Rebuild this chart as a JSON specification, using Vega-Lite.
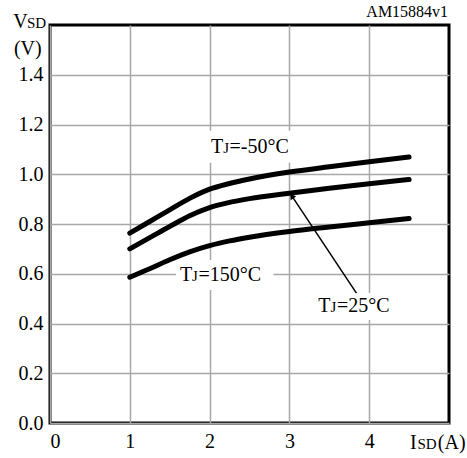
{
  "$schema": "https://vega.github.io/schema/vega-lite/v6.json",
  "autosize": "none",
  "width": 399,
  "height": 398,
  "padding": {"left": 50, "top": 25, "right": 18, "bottom": 35},
  "background": "white",
  "config": {
    "view": {"stroke": "black", "strokeWidth": 3},
    "font": "Liberation Serif",
    "axis": {"labelFont": "Liberation Serif"},
    "text": {"font": "Liberation Serif"}
  },
  "datasets": {
    "curves": [
      {"s": "-50", "i": 1.0, "v": 0.763}, {"s": "-50", "i": 1.25, "v": 0.81}, {"s": "-50", "i": 1.5, "v": 0.857},
      {"s": "-50", "i": 1.75, "v": 0.903}, {"s": "-50", "i": 2.0, "v": 0.94}, {"s": "-50", "i": 2.25, "v": 0.963},
      {"s": "-50", "i": 2.5, "v": 0.981}, {"s": "-50", "i": 3.0, "v": 1.009}, {"s": "-50", "i": 3.5, "v": 1.03},
      {"s": "-50", "i": 4.0, "v": 1.05}, {"s": "-50", "i": 4.5, "v": 1.069},
      {"s": "25", "i": 1.0, "v": 0.70}, {"s": "25", "i": 1.25, "v": 0.745}, {"s": "25", "i": 1.5, "v": 0.79},
      {"s": "25", "i": 1.75, "v": 0.833}, {"s": "25", "i": 2.0, "v": 0.866}, {"s": "25", "i": 2.25, "v": 0.887},
      {"s": "25", "i": 2.5, "v": 0.902}, {"s": "25", "i": 3.0, "v": 0.924}, {"s": "25", "i": 3.5, "v": 0.944},
      {"s": "25", "i": 4.0, "v": 0.962}, {"s": "25", "i": 4.5, "v": 0.979},
      {"s": "150", "i": 1.0, "v": 0.586}, {"s": "150", "i": 1.25, "v": 0.62}, {"s": "150", "i": 1.5, "v": 0.656},
      {"s": "150", "i": 1.75, "v": 0.688}, {"s": "150", "i": 2.0, "v": 0.713}, {"s": "150", "i": 2.25, "v": 0.732},
      {"s": "150", "i": 2.5, "v": 0.747}, {"s": "150", "i": 3.0, "v": 0.77}, {"s": "150", "i": 3.5, "v": 0.788},
      {"s": "150", "i": 4.0, "v": 0.805}, {"s": "150", "i": 4.5, "v": 0.822}
    ],
    "boxes": [
      {"x": 1.955, "x2": 3.03, "y": 1.046, "y2": 1.175},
      {"x": 1.58, "x2": 2.8, "y": 0.535, "y2": 0.655},
      {"x": 3.3, "x2": 4.3, "y": 0.414, "y2": 0.523}
    ],
    "arrow": [{"x": 3.03, "y": 0.913, "x2": 3.84, "y2": 0.522}],
    "texts": [
      {"k": "big", "x": 2.018, "y": 1.086, "t": "T"},
      {"k": "small", "x": 2.17, "y": 1.086, "t": "J"},
      {"k": "big", "x": 2.25, "y": 1.086, "t": "=-50°C"},
      {"k": "big", "x": 1.629, "y": 0.572, "t": "T"},
      {"k": "small", "x": 1.781, "y": 0.572, "t": "J"},
      {"k": "big", "x": 1.861, "y": 0.572, "t": "=150°C"},
      {"k": "big", "x": 3.363, "y": 0.446, "t": "T"},
      {"k": "small", "x": 3.515, "y": 0.446, "t": "J"},
      {"k": "big", "x": 3.595, "y": 0.446, "t": "=25°C"},
      {"k": "big", "x": -0.46, "y": 1.588, "t": "V"},
      {"k": "small", "x": -0.288, "y": 1.588, "t": "SD"},
      {"k": "bigr", "x": -0.104, "y": 1.48, "t": "(V)"},
      {"k": "big", "x": 4.512, "y": -0.105, "t": "I"},
      {"k": "small", "x": 4.605, "y": -0.105, "t": "SD"},
      {"k": "big", "x": 4.86, "y": -0.105, "t": "(A)"},
      {"k": "note", "x": 4.989, "y": 1.634, "t": "AM15884v1"}
    ]
  },
  "layer": [
    {
      "data": {"name": "boxes"},
      "mark": {"type": "rect", "fill": "white", "stroke": null},
      "encoding": {
        "x": {"field": "x", "type": "quantitative",
          "scale": {"domain": [0, 5], "nice": false, "zero": false},
          "axis": {"values": [0, 1, 2, 3, 4], "format": "d", "title": null, "grid": true, "gridColor": "#a8a8a8", "gridWidth": 1.5,
            "ticks": false, "domain": false, "labelFont": "Liberation Serif", "labelFontSize": 20, "labelColor": "black",
            "labelPadding": 8, "labelFlush": true}},
        "x2": {"field": "x2"},
        "y": {"field": "y", "type": "quantitative",
          "scale": {"domain": [0, 1.6], "nice": false, "zero": false},
          "axis": {"values": [0, 0.2, 0.4, 0.6, 0.8, 1.0, 1.2, 1.4], "format": ".1f", "title": null, "grid": true,
            "gridColor": "#a8a8a8", "gridWidth": 1.5, "ticks": false, "domain": false, "labelFont": "Liberation Serif",
            "labelFontSize": 20, "labelColor": "black", "labelPadding": 7}},
        "y2": {"field": "y2"}
      }
    },
    {
      "data": {"name": "curves"},
      "mark": {"type": "line", "color": "black", "strokeWidth": 5, "strokeCap": "round", "interpolate": "monotone"},
      "encoding": {
        "x": {"field": "i", "type": "quantitative"},
        "y": {"field": "v", "type": "quantitative"},
        "detail": {"field": "s"}
      }
    },
    {
      "data": {"name": "arrow"},
      "mark": {"type": "rule", "color": "black", "strokeWidth": 1.5},
      "encoding": {
        "x": {"field": "x", "type": "quantitative"},
        "y": {"field": "y", "type": "quantitative"},
        "x2": {"field": "x2"},
        "y2": {"field": "y2"}
      }
    },
    {
      "data": {"name": "arrow"},
      "mark": {"type": "point", "shape": "triangle-up", "filled": true, "color": "black", "size": 45, "angle": 326, "opacity": 1},
      "encoding": {
        "x": {"field": "x", "type": "quantitative"},
        "y": {"field": "y", "type": "quantitative"}
      }
    },
    {
      "data": {"name": "texts"},
      "transform": [{"filter": "datum.k === 'big'"}],
      "mark": {"type": "text", "align": "left", "baseline": "alphabetic", "font": "Liberation Serif", "fontSize": 20, "color": "black"},
      "encoding": {
        "x": {"field": "x", "type": "quantitative"},
        "y": {"field": "y", "type": "quantitative"},
        "text": {"field": "t"}
      }
    },
    {
      "data": {"name": "texts"},
      "transform": [{"filter": "datum.k === 'small'"}],
      "mark": {"type": "text", "align": "left", "baseline": "alphabetic", "font": "Liberation Serif", "fontSize": 15, "color": "black"},
      "encoding": {
        "x": {"field": "x", "type": "quantitative"},
        "y": {"field": "y", "type": "quantitative"},
        "text": {"field": "t"}
      }
    },
    {
      "data": {"name": "texts"},
      "transform": [{"filter": "datum.k === 'bigr'"}],
      "mark": {"type": "text", "align": "right", "baseline": "alphabetic", "font": "Liberation Serif", "fontSize": 20, "color": "black"},
      "encoding": {
        "x": {"field": "x", "type": "quantitative"},
        "y": {"field": "y", "type": "quantitative"},
        "text": {"field": "t"}
      }
    },
    {
      "data": {"name": "texts"},
      "transform": [{"filter": "datum.k === 'note'"}],
      "mark": {"type": "text", "align": "right", "baseline": "alphabetic", "font": "Liberation Serif", "fontSize": 16, "color": "black"},
      "encoding": {
        "x": {"field": "x", "type": "quantitative"},
        "y": {"field": "y", "type": "quantitative"},
        "text": {"field": "t"}
      }
    }
  ]
}
